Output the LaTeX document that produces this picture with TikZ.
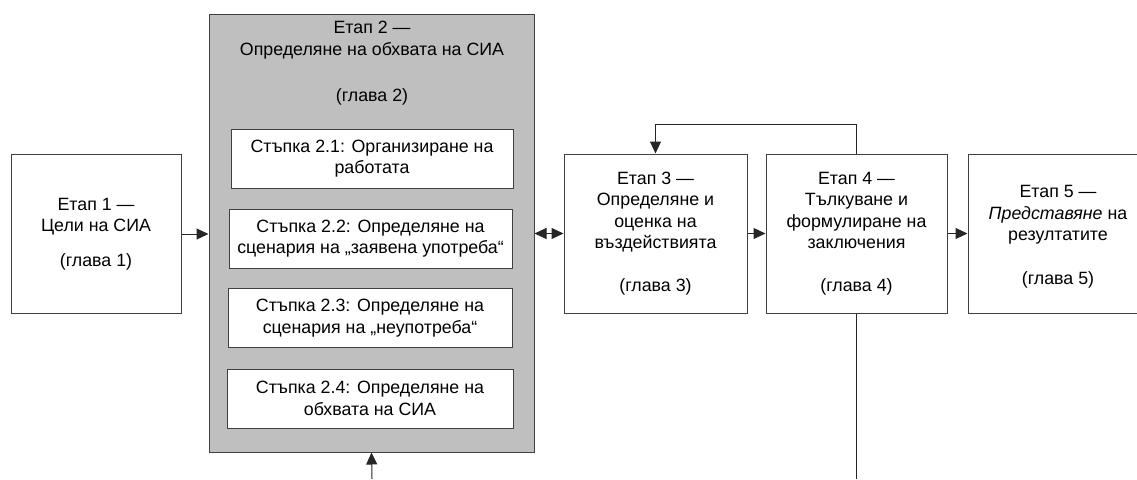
\documentclass[tikz,border=0pt]{standalone}
\usepackage{fontspec}
\setmainfont{Liberation Sans}
\usetikzlibrary{arrows.meta}
\begin{document}
\begin{tikzpicture}[x=1pt,y=-1pt,
  every node/.style={font=\fontsize{17.8}{21.5}\selectfont, align=center, inner sep=0pt},
  stage/.style={draw=black!75, line width=1pt, fill=white, minimum height=159pt},
  substep/.style={draw=black!75, line width=1pt, fill=white, minimum height=59pt},
  group/.style={draw=black!75, line width=1pt, fill=black!25},
  conn/.style={draw=black!85, line width=1pt},
  tip/.style={-{Triangle[length=12pt,width=11pt]}}
]
\useasboundingbox (0,0) rectangle (1137,479);
% stage 2 group
\node[group, minimum width=325pt, minimum height=438pt] (b2) at (371.5,233) {};
\node[anchor=north] (b2t) at (372,21) {Етап 2 —\\Определяне на обхвата на СИА\\[25pt](глава 2)};
\node[substep, minimum width=282pt] (s1) at (372,158.5) {Стъпка 2.1: Организиране на\\работата};
\node[substep, minimum width=283pt] (s2) at (370.5,238.5) {Стъпка 2.2: Определяне на\\сценария на „заявена употреба“};
\node[substep, minimum width=284pt] (s3) at (370,318) {Стъпка 2.3: Определяне на\\сценария на „неупотреба“};
\node[substep, minimum width=286pt] (s4) at (370,398.5) {Стъпка 2.4: Определяне на\\обхвата на СИА};
% stages
\node[stage, minimum width=170pt] (b1) at (96,234) {Етап 1 —\\Цели на СИА\\[13.5pt](глава 1)};
\node[stage, minimum width=183pt] (b3) at (655.5,233.5) {Етап 3 —\\Определяне и\\оценка на\\въздействията\\[21.5pt](глава 3)};
\node[stage, minimum width=181pt] (b4) at (856.5,233.5) {Етап 4 —\\Тълкуване и\\формулиране на\\заключения\\[21.5pt](глава 4)};
\node[stage, minimum width=180pt] (b5) at (1058,233.5) {};
\node (b5t) at (1058,236.5) {Етап 5 —\\\textit{Представяне} на\\резултатите\\[22pt](глава 5)};
% connectors
\coordinate (inB) at (372,479);
\coordinate (outD) at (856.5,479);
\draw[conn, tip] (b1.east) -- (b1.east -| b2.west);
\draw[conn, {Triangle[length=12pt,width=11pt]}-{Triangle[length=12pt,width=11pt]}] (b3.west -| b2.east) -- (b3.west);
\draw[conn, tip] (b3.east) -- (b4.west);
\draw[conn, tip] (b4.east) -- (b5.west);
\draw[conn, tip] (b4.north) -- ++(0,-29) -| (b3.north);
\draw[conn] (b4.south) -- (outD);
\draw[conn, tip] (inB) -- (b2.south);
\end{tikzpicture}
\end{document}
